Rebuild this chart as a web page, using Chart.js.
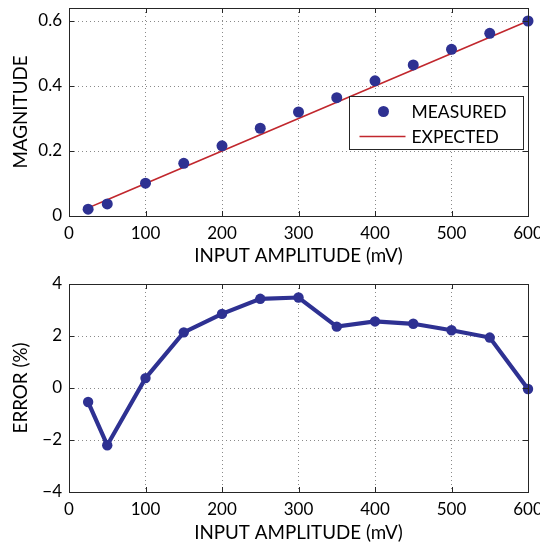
<!DOCTYPE html>
<html><head><meta charset="utf-8">
<script src="https://cdn.jsdelivr.net/npm/chart.js@4"></script>
<style>
html,body{margin:0;padding:0;background:#fff;}
#wrap{position:relative;width:540px;height:547px;overflow:hidden;}
#c1{position:absolute;left:0;top:0;}
#c2{position:absolute;left:0;top:270px;}
</style></head><body>
<div id="wrap">
<canvas id="c1" width="540" height="270"></canvas>
<canvas id="c2" width="540" height="277"></canvas>
</div>
<script>
const amplitudes = [25,50,100,150,200,250,300,350,400,450,500,550,600];
const measured   = [0.021,0.037,0.101,0.162,0.216,0.270,0.320,0.364,0.416,0.465,0.513,0.562,0.600];
const expected   = [0.025,0.05,0.1,0.15,0.2,0.25,0.3,0.35,0.4,0.45,0.5,0.55,0.6];
const errorPct   = [-0.54,-2.2,0.38,2.14,2.85,3.43,3.48,2.36,2.56,2.47,2.22,1.94,-0.04];
const xTicks   = [0,100,200,300,400,500,600];
const magTicks = [0,0.2,0.4,0.6];
const errTicks = [-4,-2,0,2,4];

const FONT = 'Lato, "Open Sans", sans-serif';
const NAVY = '#2E3192';
const RED = '#C1272D';
const AXIS = '#262626';

function pts(ys){ return amplitudes.map((x,i)=>({x:x,y:ys[i]})); }

const boxPlugin = {
  id:'box',
  afterDraw(chart){
    const {ctx, chartArea:a} = chart;
    const xs = chart.scales.x, ys = chart.scales.y;
    ctx.save();
    ctx.strokeStyle = AXIS; ctx.lineWidth = 1;
    ctx.strokeRect(Math.round(a.left)+0.5, Math.round(a.top)+0.5, Math.round(a.right-a.left), Math.round(a.bottom-a.top));
    ctx.beginPath();
    const L = 5;
    xs.ticks.forEach(t=>{ const px = Math.round(xs.getPixelForValue(t.value))+0.5;
      ctx.moveTo(px,a.bottom); ctx.lineTo(px,a.bottom-L);
      ctx.moveTo(px,a.top); ctx.lineTo(px,a.top+L); });
    ys.ticks.forEach(t=>{ const py = Math.round(ys.getPixelForValue(t.value))+0.5;
      ctx.moveTo(a.left,py); ctx.lineTo(a.left+L,py);
      ctx.moveTo(a.right,py); ctx.lineTo(a.right-L,py); });
    ctx.stroke();
    const opts = chart.options.plugins.boxLegend;
    if (opts && opts.show){
      const ds = chart.data.datasets;
      const w = 174, h = 53;
      const lx = Math.round(a.right - 179)+0.5, ly = Math.round(a.top + 88)+0.5;
      ctx.fillStyle = '#fff';
      ctx.fillRect(lx, ly, w, h);
      ctx.strokeStyle = AXIS;
      ctx.strokeRect(lx, ly, w, h);
      ctx.font = '17.5px ' + FONT;
      ctx.textBaseline = 'middle';
      const r1y = ly + 15, r2y = ly + 40;
      ctx.beginPath(); ctx.fillStyle = ds[0].pointBackgroundColor;
      ctx.arc(lx+34, r1y, 5.5, 0, Math.PI*2); ctx.fill();
      ctx.fillStyle = '#000';
      ctx.fillText(ds[0].label, lx+62, r1y+1);
      ctx.beginPath(); ctx.strokeStyle = ds[1].borderColor; ctx.lineWidth = 1.6;
      ctx.moveTo(lx+10, r2y); ctx.lineTo(lx+56, r2y); ctx.stroke();
      ctx.fillText(ds[1].label, lx+62, r2y+1);
    }
    ctx.restore();
  }
};

function xScale(h){
  return {
    type:'linear', min:0, max:600, position:'bottom',
    afterBuildTicks(s){ s.ticks = xTicks.map(v=>({value:v})); },
    afterFit(s){ s.height = h; s.paddingLeft = 0; s.paddingRight = 0; },
    grid:{color:'#8a8a8a', lineWidth:1, drawTicks:false},
    border:{display:true, color:AXIS, width:1, dash:[1,3]},
    ticks:{color:'#000', font:{family:FONT, size:17}, padding:7, maxRotation:0, autoSkip:false},
    title:{display:true, text:'INPUT AMPLITUDE (mV)', color:'#000', font:{family:FONT, size:18.8}, padding:{top:0,bottom:3}}
  };
}
function yScale(min,max,tickArr,title,fmt){
  return {
    type:'linear', min:min, max:max,
    afterBuildTicks(s){ s.ticks = tickArr.map(v=>({value:v})); },
    afterFit(s){ s.width = 69; s.paddingTop = 0; s.paddingBottom = 0; },
    grid:{color:'#8a8a8a', lineWidth:1, drawTicks:false},
    border:{display:true, color:AXIS, width:1, dash:[1,3]},
    ticks:{color:'#000', font:{family:FONT, size:17}, padding:7, callback:fmt},
    title:{display:true, text:title, color:'#000', font:{family:FONT, size:18.8}, padding:{top:10,bottom:0}}
  };
}

Chart.defaults.font.family = FONT;

new Chart(document.getElementById('c1'), {
  type:'scatter',
  data:{ datasets:[
    {label:'MEASURED', data:pts(measured), showLine:false, pointRadius:5.5, pointHoverRadius:5.5, pointBorderWidth:0,
     pointBackgroundColor:NAVY, pointBorderColor:NAVY, borderWidth:0, clip:false, order:1},
    {label:'EXPECTED', data:pts(expected), showLine:true, pointRadius:0, borderColor:RED, borderWidth:1.6,
     backgroundColor:RED, clip:false, order:2}
  ]},
  options:{
    responsive:false, animation:false, events:[],
    layout:{padding:{top:8, right:12, left:0, bottom:0}},
    plugins:{legend:{display:false}, tooltip:{enabled:false}, boxLegend:{show:true}},
    scales:{
      x: xScale(54),
      y: yScale(0, 0.64, magTicks, 'MAGNITUDE', v=> v===0 ? '0' : String(v))
    }
  },
  plugins:[boxPlugin]
});

new Chart(document.getElementById('c2'), {
  type:'scatter',
  data:{ datasets:[
    {label:'ERROR', data:pts(errorPct), showLine:true, borderColor:NAVY, borderWidth:4.2,
     pointRadius:5.2, pointHoverRadius:5.2, pointBorderWidth:0, pointBackgroundColor:NAVY, pointBorderColor:NAVY, clip:false}
  ]},
  options:{
    responsive:false, animation:false, events:[],
    layout:{padding:{top:14, right:12, left:0, bottom:0}},
    plugins:{legend:{display:false}, tooltip:{enabled:false}},
    scales:{
      x: xScale(55),
      y: yScale(-4, 4, errTicks, 'ERROR (%)', v=> String(v).replace('-', '\u2212'))
    }
  },
  plugins:[boxPlugin]
});
</script>
</body></html>
